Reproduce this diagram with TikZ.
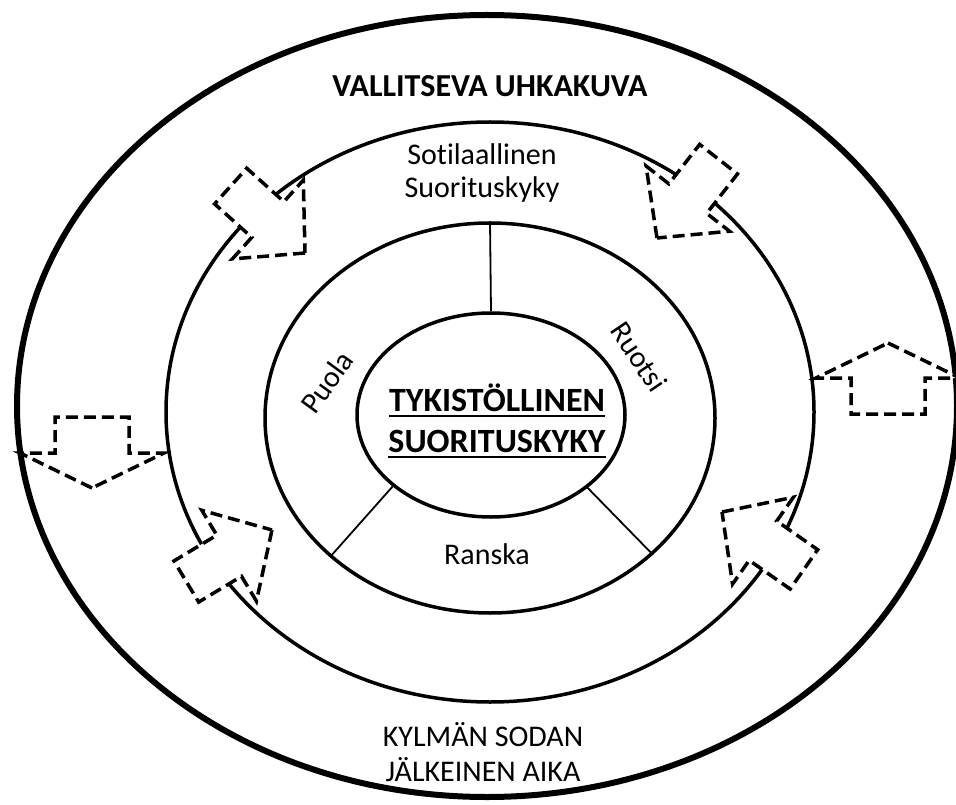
\documentclass[tikz,border=0pt]{standalone}
\usepackage{fontspec}
\setmainfont{Carlito}[Ligatures=NoCommon]
\usepackage{tikz}
\usetikzlibrary{shapes.geometric}
\newcommand\thickul[1]{\vtop{\hbox{#1}\kern3.5pt\hrule height 2pt}}
\tikzset{
  ring/.style={draw, ellipse, line width=3.5pt, inner sep=0pt},
  divider/.style={line width=1.8pt},
  threat/.style={draw, fill=white, line width=3.5pt, dash pattern=on 12pt off 6pt},
  ringtext/.style={font=\fontsize{30}{33}\selectfont, align=center, inner sep=0pt},
  boldtext/.style={font=\fontsize{32}{35}\selectfont\bfseries, align=center, inner sep=0pt},
  titletext/.style={font=\fontsize{34}{41}\selectfont\bfseries, align=center, inner sep=0pt}
}

\begin{document}
\begin{tikzpicture}[x=1pt, y=-1pt]
  \useasboundingbox (0,0) rectangle (956,805);

  % rings
  \node[ring, line width=6pt, minimum width=940, minimum height=782] (outer) at (487,406) {};
  \node[ring, minimum width=648, minimum height=580] (middle) at (490,412) {};
  \node[ring, minimum width=450, minimum height=390] (inner) at (490,418) {};
  \node[ring, minimum width=268, minimum height=204] (core) at (491,415) {};

  % sector lines
  \draw[divider] (core.north) -- (inner.north);
  \draw[divider] (core.216) -- (inner.221);
  \draw[divider] (core.-37) -- (inner.-40);

  % dashed arrows
  \foreach \x/\y/\a in {305/253/-42, 657/238/-128, 272/530/31, 722/512/145}
    \draw[threat, shift={(\x,\y)}, rotate=\a] (0,0) -- (-50,53) -- (-50,24) -- (-100,24)
      -- (-100,-24) -- (-50,-24) -- (-50,-53) -- cycle;
  \foreach \x/\y/\a in {92/488/-90, 888/343/90}
    \draw[threat, shift={(\x,\y)}, rotate=\a] (0,0) -- (-35,72) -- (-35,37) -- (-71,37)
      -- (-71,-37) -- (-35,-37) -- (-35,-72) -- cycle;

  % texts
  \node[boldtext] (threatlabel) at (490,86) {VALLITSEVA UHKAKUVA};
  \node[ringtext] (military) at (482,173) {Sotilaallinen\\Suorituskyky};
  \node[ringtext, font=\fontsize{30}{35}\selectfont] (postwar) at (483,752) {KYLMÄN SODAN\\JÄLKEINEN AIKA};
  \node[titletext] (title) at (497,421) {\thickul{TYKISTÖLLINEN}\\\thickul{SUORITUSKYKY}};
  \node[ringtext] (poland) at (327,382) [rotate=54] {Puola};
  \node[ringtext] (sweden) at (639,357) [rotate=-56] {Ruotsi};
  \node[ringtext] (france) at (487,554) {Ranska};
\end{tikzpicture}
\end{document}
